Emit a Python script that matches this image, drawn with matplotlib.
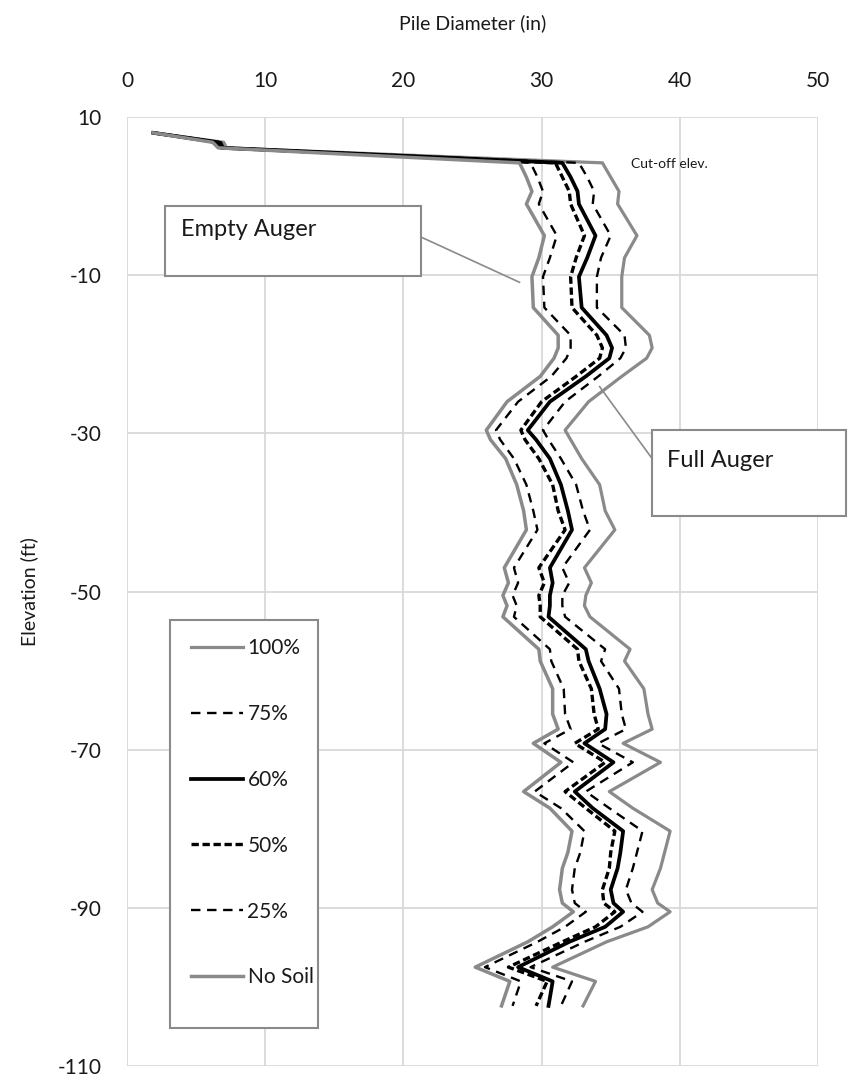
import matplotlib
matplotlib.use("Agg")
from matplotlib import pyplot as plt
from matplotlib.patches import Rectangle

plt.rcParams['font.family'] = ['Lato', 'DejaVu Sans']
plt.rcParams['axes.unicode_minus'] = False

# elevation (ft) of each reading, shared by all series
elev = [8.0, 6.8, 6.1, 4.2, 2.4, 0.6, -1.0, -5.0, -7.8, -10.2, -14.1, -17.6, -19.2,
        -20.5, -22.8, -26.0, -29.6, -30.8, -33.2, -36.5, -39.8, -42.2, -47.0, -48.9,
        -50.5, -51.8, -53.2, -57.3, -58.8, -62.3, -65.5, -67.4, -69.2, -71.6, -75.3,
        -77.4, -80.3, -83.0, -85.0, -87.7, -89.4, -90.5, -92.4, -94.3, -97.5, -99.3,
        -102.4]

# pile diameter (in)
d100 = [1.9, 7.0, 7.2, 34.4, 35.0, 35.6, 35.5, 36.9, 36.0, 35.8, 35.8, 37.8, 38.0,
        37.6, 35.8, 33.4, 31.7, 32.1, 32.9, 34.2, 34.6, 35.3, 33.1, 33.6, 33.2, 33.1,
        33.5, 36.4, 36.0, 37.4, 37.7, 38.0, 35.9, 38.6, 34.9, 36.6, 39.3, 38.9, 38.6,
        38.0, 38.4, 39.3, 37.7, 34.7, 30.8, 33.9, 33.0]
d75 = [1.9, 6.8, 7.0, 32.7, 33.3, 33.8, 33.7, 35.0, 34.3, 34.0, 34.0, 36.0, 36.1,
       35.7, 34.1, 31.7, 30.1, 30.5, 31.4, 32.5, 33.0, 33.5, 31.5, 32.0, 31.5, 31.5,
       31.7, 34.6, 34.3, 35.6, 35.8, 36.1, 34.1, 36.6, 33.2, 34.9, 37.3, 36.9, 36.6,
       36.1, 36.5, 37.3, 35.7, 33.1, 29.2, 32.2, 31.4]
d60 = [1.9, 6.6, 6.9, 31.5, 32.1, 32.6, 32.7, 33.9, 33.3, 32.7, 32.9, 34.7, 35.1,
       34.9, 33.2, 30.6, 29.0, 29.6, 30.6, 31.4, 31.9, 32.2, 30.6, 30.8, 30.6, 30.6,
       30.5, 33.2, 33.4, 34.2, 34.7, 34.6, 33.1, 35.2, 32.4, 33.7, 35.9, 35.7, 35.5,
       35.0, 35.2, 35.9, 34.6, 32.0, 28.3, 30.8, 30.5]
d50 = [1.9, 6.5, 6.8, 31.0, 31.5, 32.0, 32.1, 33.1, 32.5, 32.1, 32.2, 34.0, 34.4,
       34.2, 32.5, 30.0, 28.5, 28.8, 29.8, 30.8, 31.2, 31.7, 29.8, 30.2, 29.8, 29.9,
       29.9, 32.6, 32.7, 33.6, 33.8, 34.1, 32.4, 34.6, 31.7, 33.2, 35.3, 35.0, 34.9,
       34.4, 34.5, 35.3, 33.9, 31.5, 27.6, 30.4, 29.6]
d25 = [1.9, 6.3, 6.7, 29.2, 29.7, 30.1, 29.8, 31.1, 30.6, 30.1, 30.2, 32.1, 32.1,
       31.8, 30.7, 28.3, 26.7, 27.0, 28.0, 28.9, 29.4, 29.7, 28.0, 28.3, 27.9, 28.2,
       28.0, 30.6, 30.7, 31.6, 31.7, 32.1, 30.2, 32.3, 29.5, 31.4, 33.1, 32.8, 32.4,
       32.2, 32.4, 33.2, 31.7, 29.7, 25.9, 28.5, 27.9]
d0 = [1.9, 6.2, 6.6, 28.4, 28.9, 29.3, 28.9, 30.2, 29.8, 29.3, 29.4, 31.2, 31.2,
      30.9, 29.9, 27.5, 26.0, 26.3, 27.4, 28.2, 28.7, 28.9, 27.3, 27.6, 27.2, 27.5,
      27.2, 29.8, 29.9, 30.8, 30.8, 31.2, 29.4, 31.4, 28.7, 30.6, 32.2, 31.9, 31.5,
      31.3, 31.5, 32.3, 30.8, 29.0, 25.2, 27.7, 27.1]

x_ticks = [0, 10, 20, 30, 40, 50]
y_ticks = [10, -10, -30, -50, -70, -90, -110]

gray = '#8a8a8a'
txt = '#1a1a1a'

fig = plt.figure(figsize=(8.57, 10.81), dpi=100)
ax = fig.add_axes([127 / 857, 1 - 1066 / 1081, (818 - 127) / 857, (1066 - 117) / 1081])

ax.plot(d100, elev, color=gray, lw=2.3, label='100%')
ax.plot(d75, elev, color='black', lw=1.7, dashes=(4, 2.8), label='75%')
ax.plot(d60, elev, color='black', lw=2.7, label='60%')
ax.plot(d50, elev, color='black', lw=2.4, dashes=(2.2, 1.1), label='50%')
ax.plot(d25, elev, color='black', lw=1.7, dashes=(4, 2.8), label='25%')
ax.plot(d0, elev, color=gray, lw=2.5, label='No Soil')

ax.set_xlim(0, 50)
ax.set_ylim(-110, 10)
ax.set_xticks(x_ticks)
ax.set_yticks(y_ticks)
ax.xaxis.tick_top()
ax.xaxis.set_label_position('top')
ax.tick_params(axis='both', length=0, labelsize=15, colors=txt)
ax.tick_params(axis='x', pad=19)
ax.tick_params(axis='y', pad=18)
ax.grid(True, color='#d9d9d9', lw=1.3)
ax.set_axisbelow(True)
for s in ax.spines.values():
    s.set_visible(False)

ax.set_xlabel('Pile Diameter (in)', fontsize=14, labelpad=30, color=txt)
ax.set_ylabel('Elevation (ft)', fontsize=14, labelpad=14, color=txt)

# callout boxes
ax.add_patch(Rectangle((2.75, -10.1), 18.55, 8.85, facecolor='white',
                       edgecolor=gray, lw=1.5, zorder=5))
ax.text(3.9, -4.2, 'Empty Auger', fontsize=17, va='center', ha='left', color=txt, zorder=6)
ax.plot([21.3, 28.4], [-5.2, -10.9], color=gray, lw=1.2, zorder=5)

ax.add_patch(Rectangle((38.0, -40.5), 14.0, 10.9, facecolor='white',
                       edgecolor=gray, lw=1.5, zorder=5, clip_on=False))
ax.text(39.1, -33.4, 'Full Auger', fontsize=17, va='center', ha='left', color=txt, zorder=6)
ax.plot([34.2, 38.0], [-24.1, -33.2], color=gray, lw=1.2, zorder=5)

ax.text(36.5, 4.0, 'Cut-off elev.', fontsize=10, va='center', ha='left', color=txt)

# legend frame drawn separately so the padding matches
ax.add_patch(Rectangle((170 / 857, 1 - 1028 / 1081), 148 / 857, 408 / 1081,
                       transform=fig.transFigure, facecolor='white',
                       edgecolor=gray, lw=1.5, zorder=6, clip_on=False))
leg = ax.legend(loc='upper left', bbox_to_anchor=(185 / 857, 1 - 632 / 1081),
                bbox_transform=fig.transFigure, borderaxespad=0, fontsize=15,
                frameon=False, labelspacing=2.2, handlelength=2.5,
                handletextpad=0.2, borderpad=0.3)
for t in leg.get_texts():
    t.set_color(txt)
leg.set_zorder(7)

fig.savefig('out.png', dpi=100)
